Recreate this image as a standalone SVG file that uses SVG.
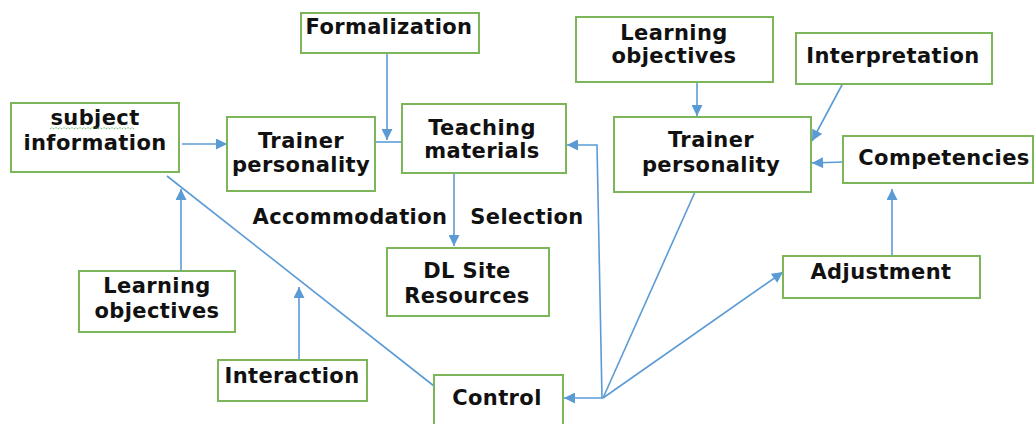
<svg xmlns="http://www.w3.org/2000/svg" width="1035" height="424" viewBox="0 0 1035 424">
<style>
.box{fill:#fff;stroke:#7DB65A;stroke-width:2}
.t{font-family:"DejaVu Sans","Liberation Sans",sans-serif;font-weight:bold;font-size:21px;letter-spacing:0.4px;fill:#111;text-anchor:middle}
.c{fill:none;stroke:#5B9BD5;stroke-width:1.6}
.a{marker-end:url(#arr)}
</style>
<defs>
<marker id="arr" viewBox="0 0 10 10" refX="10" refY="5" markerWidth="12" markerHeight="11" markerUnits="userSpaceOnUse" orient="auto">
<path d="M0,0 L10,5 L0,10 z" fill="#5B9BD5"/>
</marker>
</defs>
<rect width="1035" height="424" fill="#fff"/>
<g id="connectors">
<line class="c a" x1="182" y1="144" x2="227" y2="144"/>
<line class="c a" x1="387" y1="53" x2="387" y2="140"/>
<line class="c" x1="375" y1="142" x2="401" y2="142"/>
<line class="c a" x1="454" y1="173" x2="454" y2="246"/>
<polyline class="c a" points="602,398 597,145 567,145"/>
<line class="c a" x1="603" y1="398" x2="564" y2="398"/>
<line class="c" x1="695" y1="192" x2="603" y2="398"/>
<line class="c a" x1="603" y1="398" x2="783" y2="272"/>
<line class="c a" x1="892" y1="256" x2="892" y2="189"/>
<line class="c a" x1="697" y1="82" x2="697" y2="116"/>
<line class="c a" x1="843" y1="83" x2="812" y2="141"/>
<line class="c a" x1="843" y1="162" x2="812" y2="163"/>
<line class="c a" x1="181" y1="271" x2="181" y2="189"/>
<line class="c a" x1="299" y1="360" x2="299" y2="287"/>
<line class="c" x1="167" y1="176" x2="434" y2="386"/>
</g>
<g id="subject-information">
<rect class="box" x="11" y="103" width="168" height="69"/>
<text class="t" x="95" y="125">subject</text>
<path d="M50,129 l2,-1.5 l2,1.5 l2,-1.5 l2,1.5 l2,-1.5 l2,1.5 l2,-1.5 l2,1.5 l2,-1.5 l2,1.5 l2,-1.5 l2,1.5 l2,-1.5 l2,1.5 l2,-1.5 l2,1.5 l2,-1.5 l2,1.5 l2,-1.5 l2,1.5 l2,-1.5 l2,1.5 l2,-1.5 l2,1.5 l2,-1.5 l2,1.5 l2,-1.5 l2,1.5 l2,-1.5 l2,1.5 l2,-1.5 l2,1.5 l2,-1.5 l2,1.5 l2,-1.5 l2,1.5 l2,-1.5 l2,1.5 l2,-1.5 l2,1.5 l2,-1.5 l2,1.5" fill="none" stroke="#4CA64C" stroke-width="1" stroke-dasharray="1,1"/>
<text class="t" x="95" y="150">information</text>
</g>
<g id="trainer-personality-left">
<rect class="box" x="227" y="117" width="148" height="74"/>
<text class="t" x="301" y="148">Trainer</text>
<text class="t" x="301" y="172">personality</text>
</g>
<g id="formalization">
<rect class="box" x="301" y="13" width="178" height="40"/>
<text class="t" x="389" y="34">Formalization</text>
</g>
<g id="teaching-materials">
<rect class="box" x="402" y="104" width="164" height="69"/>
<text class="t" x="482" y="135">Teaching</text>
<text class="t" x="482" y="158">materials</text>
</g>
<g id="learning-objectives-top">
<rect class="box" x="576" y="17" width="197" height="65"/>
<text class="t" x="674" y="40">Learning</text>
<text class="t" x="674" y="63">objectives</text>
</g>
<g id="interpretation">
<rect class="box" x="796" y="33" width="196" height="51"/>
<text class="t" x="893" y="63">Interpretation</text>
</g>
<g id="trainer-personality-right">
<rect class="box" x="614" y="117" width="197" height="75"/>
<text class="t" x="711" y="147">Trainer</text>
<text class="t" x="711" y="172">personality</text>
</g>
<g id="competencies">
<rect class="box" x="843" y="136" width="190" height="47"/>
<text class="t" x="944" y="165">Competencies</text>
</g>
<g id="labels">
<text class="t" x="350" y="224">Accommodation</text>
<text class="t" x="527" y="224">Selection</text>
</g>
<g id="dl-site-resources">
<rect class="box" x="387" y="248" width="162" height="68"/>
<text class="t" x="467" y="278">DL Site</text>
<text class="t" x="467" y="303">Resources</text>
</g>
<g id="learning-objectives-left">
<rect class="box" x="79" y="271" width="156" height="61"/>
<text class="t" x="157" y="293">Learning</text>
<text class="t" x="157" y="318">objectives</text>
</g>
<g id="interaction">
<rect class="box" x="218" y="360" width="149" height="41"/>
<text class="t" x="292" y="383">Interaction</text>
</g>
<g id="control">
<rect class="box" x="434" y="375" width="129" height="60"/>
<text class="t" x="497" y="405">Control</text>
</g>
<g id="adjustment">
<rect class="box" x="783" y="256" width="197" height="42"/>
<text class="t" x="881" y="279">Adjustment</text>
</g>
</svg>
